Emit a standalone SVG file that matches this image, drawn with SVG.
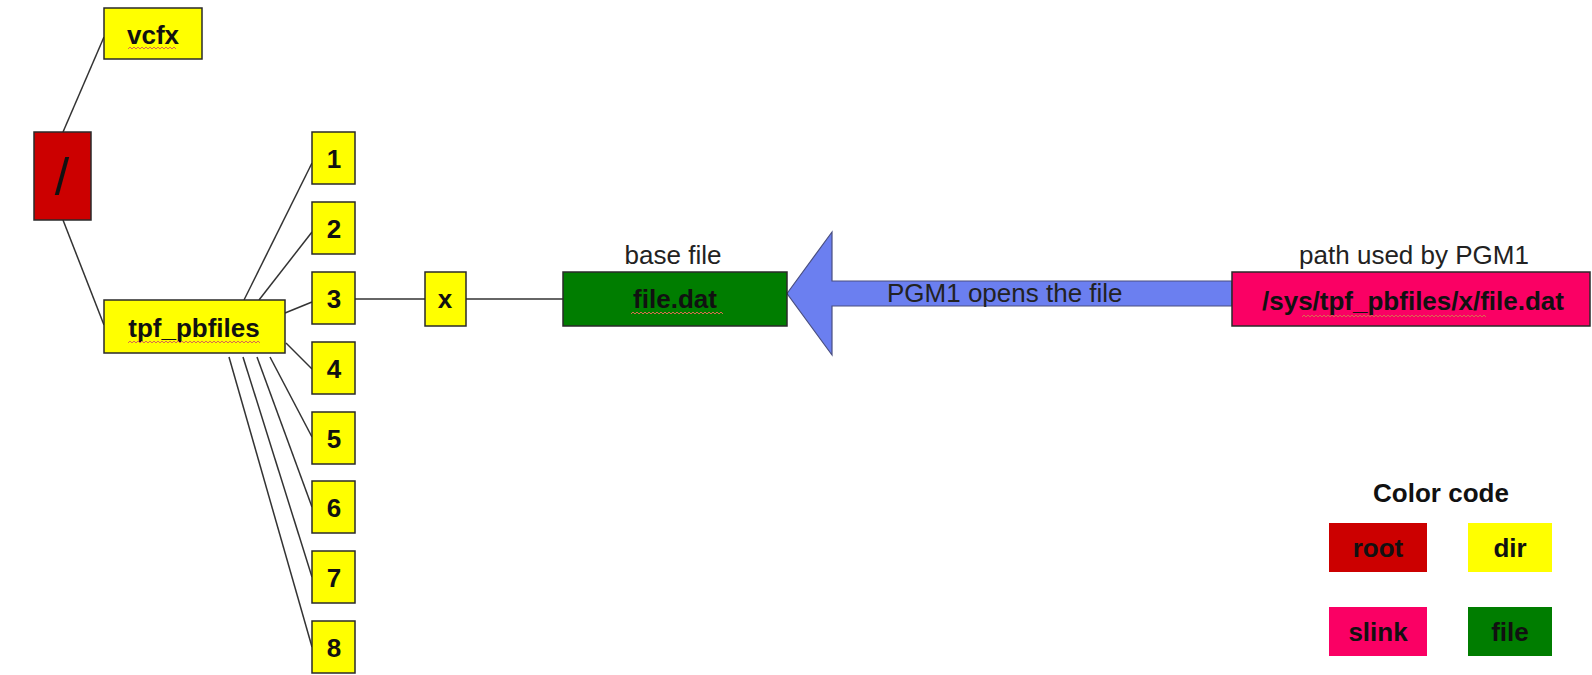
<svg xmlns="http://www.w3.org/2000/svg" width="1592" height="675" viewBox="0 0 1592 675">
<style>
.box{stroke:#2a2a2a;stroke-width:1.5}
.dir{fill:#ffff00}
.root{fill:#cc0000}
.file{fill:#007d00}
.slink{fill:#fa0064}
.b{font-family:"Liberation Sans",Arial,sans-serif;font-weight:bold;font-size:26px;fill:#111;text-anchor:middle}
.r{font-family:"Liberation Sans",Arial,sans-serif;font-size:26px;fill:#222;text-anchor:middle}
.ln{stroke:#333;stroke-width:1.5;fill:none}
.sq{fill:none;stroke:#d86a50;stroke-width:1}
</style>
<rect width="1592" height="675" fill="#fff"/>
<g id="connectors">
<line class="ln" x1="63" y1="132" x2="104" y2="37"/>
<line class="ln" x1="63" y1="220" x2="104" y2="325"/>
<line class="ln" x1="244" y1="300" x2="312" y2="163"/>
<line class="ln" x1="259" y1="300" x2="312" y2="232"/>
<line class="ln" x1="285" y1="313" x2="312" y2="302"/>
<line class="ln" x1="286" y1="343" x2="312" y2="369"/>
<line class="ln" x1="270" y1="357" x2="312" y2="437"/>
<line class="ln" x1="257" y1="357" x2="312" y2="507"/>
<line class="ln" x1="243" y1="357" x2="312" y2="577"/>
<line class="ln" x1="229" y1="357" x2="312" y2="647"/>
<line class="ln" x1="355" y1="299" x2="425" y2="299"/>
<line class="ln" x1="466" y1="299" x2="563" y2="299"/>
<g id="open-arrow">
<polygon points="787,293.5 832,232 832,281 1232,281 1232,306 832,306 832,355" fill="#6b7ff0" stroke="#4a4f80" stroke-width="1.2"/>
<text x="887" y="302" font-family="'Liberation Sans',Arial,sans-serif" font-size="26" fill="#222">PGM1 opens the file</text>
</g>
</g>
<g id="node-root">
<rect class="box root" x="34" y="132" width="57" height="88"/>
<text x="62" y="195" font-family="'Liberation Sans',Arial,sans-serif" font-size="52" fill="#111" text-anchor="middle">/</text>
</g>
<g id="node-vcfx">
<rect class="box dir" x="104" y="8" width="98" height="51"/>
<text class="b" x="153" y="44">vcfx</text>
<path class="sq" d="M128 49 l2 -2 l2 2 l2 -2 l2 2 l2 -2 l2 2 l2 -2 l2 2 l2 -2 l2 2 l2 -2 l2 2 l2 -2 l2 2 l2 -2 l2 2 l2 -2 l2 2 l2 -2 l2 2 l2 -2 l2 2 l2 -2 l2 2"/>
</g>
<g id="node-tpf_pbfiles">
<rect class="box dir" x="104" y="300" width="181" height="53"/>
<text class="b" x="194" y="337">tpf_pbfiles</text>
<path class="sq" d="M128 343 l2 -2 l2 2 l2 -2 l2 2 l2 -2 l2 2 l2 -2 l2 2 l2 -2 l2 2 l2 -2 l2 2 l2 -2 l2 2 l2 -2 l2 2 l2 -2 l2 2 l2 -2 l2 2 l2 -2 l2 2 l2 -2 l2 2 l2 -2 l2 2 l2 -2 l2 2 l2 -2 l2 2 l2 -2 l2 2 l2 -2 l2 2 l2 -2 l2 2 l2 -2 l2 2 l2 -2 l2 2 l2 -2 l2 2 l2 -2 l2 2 l2 -2 l2 2 l2 -2 l2 2 l2 -2 l2 2 l2 -2 l2 2 l2 -2 l2 2 l2 -2 l2 2 l2 -2 l2 2 l2 -2 l2 2 l2 -2 l2 2 l2 -2 l2 2 l2 -2 l2 2"/>
</g>
<g id="node-1"><rect class="box dir" x="312" y="132" width="43" height="52"/><text class="b" x="334" y="168">1</text></g>
<g id="node-2"><rect class="box dir" x="312" y="202" width="43" height="52"/><text class="b" x="334" y="238">2</text></g>
<g id="node-3"><rect class="box dir" x="312" y="272" width="43" height="52"/><text class="b" x="334" y="308">3</text></g>
<g id="node-4"><rect class="box dir" x="312" y="342" width="43" height="52"/><text class="b" x="334" y="378">4</text></g>
<g id="node-5"><rect class="box dir" x="312" y="412" width="43" height="52"/><text class="b" x="334" y="448">5</text></g>
<g id="node-6"><rect class="box dir" x="312" y="481" width="43" height="52"/><text class="b" x="334" y="517">6</text></g>
<g id="node-7"><rect class="box dir" x="312" y="551" width="43" height="52"/><text class="b" x="334" y="587">7</text></g>
<g id="node-8"><rect class="box dir" x="312" y="621" width="43" height="52"/><text class="b" x="334" y="657">8</text></g>
<g id="node-x"><rect class="box dir" x="425" y="272" width="41" height="54"/><text class="b" x="445" y="308">x</text></g>
<g id="node-file">
<text class="r" x="673" y="264">base file</text>
<rect class="box file" x="563" y="272" width="224" height="54"/>
<text class="b" x="675" y="308">file.dat</text>
<path class="sq" d="M631 314 l2 -2 l2 2 l2 -2 l2 2 l2 -2 l2 2 l2 -2 l2 2 l2 -2 l2 2 l2 -2 l2 2 l2 -2 l2 2 l2 -2 l2 2 l2 -2 l2 2 l2 -2 l2 2 l2 -2 l2 2 l2 -2 l2 2 l2 -2 l2 2 l2 -2 l2 2 l2 -2 l2 2 l2 -2 l2 2 l2 -2 l2 2 l2 -2 l2 2 l2 -2 l2 2 l2 -2 l2 2 l2 -2 l2 2 l2 -2 l2 2 l2 -2 l2 2"/>
</g>
<g id="node-slink">
<text class="r" x="1414" y="264">path used by PGM1</text>
<rect class="box slink" x="1232" y="272" width="358" height="54"/>
<text class="b" x="1413" y="310">/sys/tpf_pbfiles/x/file.dat</text>
<path class="sq" d="M1302 317 l2 -2 l2 2 l2 -2 l2 2 l2 -2 l2 2 l2 -2 l2 2 l2 -2 l2 2 l2 -2 l2 2 l2 -2 l2 2 l2 -2 l2 2 l2 -2 l2 2 l2 -2 l2 2 l2 -2 l2 2 l2 -2 l2 2 l2 -2 l2 2 l2 -2 l2 2 l2 -2 l2 2 l2 -2 l2 2 l2 -2 l2 2 l2 -2 l2 2 l2 -2 l2 2 l2 -2 l2 2 l2 -2 l2 2 l2 -2 l2 2 l2 -2 l2 2 l2 -2 l2 2 l2 -2 l2 2 l2 -2 l2 2 l2 -2 l2 2 l2 -2 l2 2 l2 -2 l2 2 l2 -2 l2 2 l2 -2 l2 2 l2 -2 l2 2 l2 -2 l2 2 l2 -2 l2 2 l2 -2 l2 2 l2 -2 l2 2 l2 -2 l2 2 l2 -2 l2 2 l2 -2 l2 2 l2 -2 l2 2 l2 -2 l2 2 l2 -2 l2 2 l2 -2 l2 2 l2 -2 l2 2 l2 -2 l2 2 l2 -2 l2 2"/>
</g>
<g id="legend">
<text class="b" x="1441" y="502">Color code</text>
<rect class="root" x="1329" y="523" width="98" height="49"/>
<text class="b" x="1378" y="557">root</text>
<rect class="dir" x="1468" y="523" width="84" height="49"/>
<text class="b" x="1510" y="557">dir</text>
<rect class="slink" x="1329" y="607" width="98" height="49"/>
<text class="b" x="1378" y="641">slink</text>
<rect class="file" x="1468" y="607" width="84" height="49"/>
<text class="b" x="1510" y="641">file</text>
</g>
</svg>
